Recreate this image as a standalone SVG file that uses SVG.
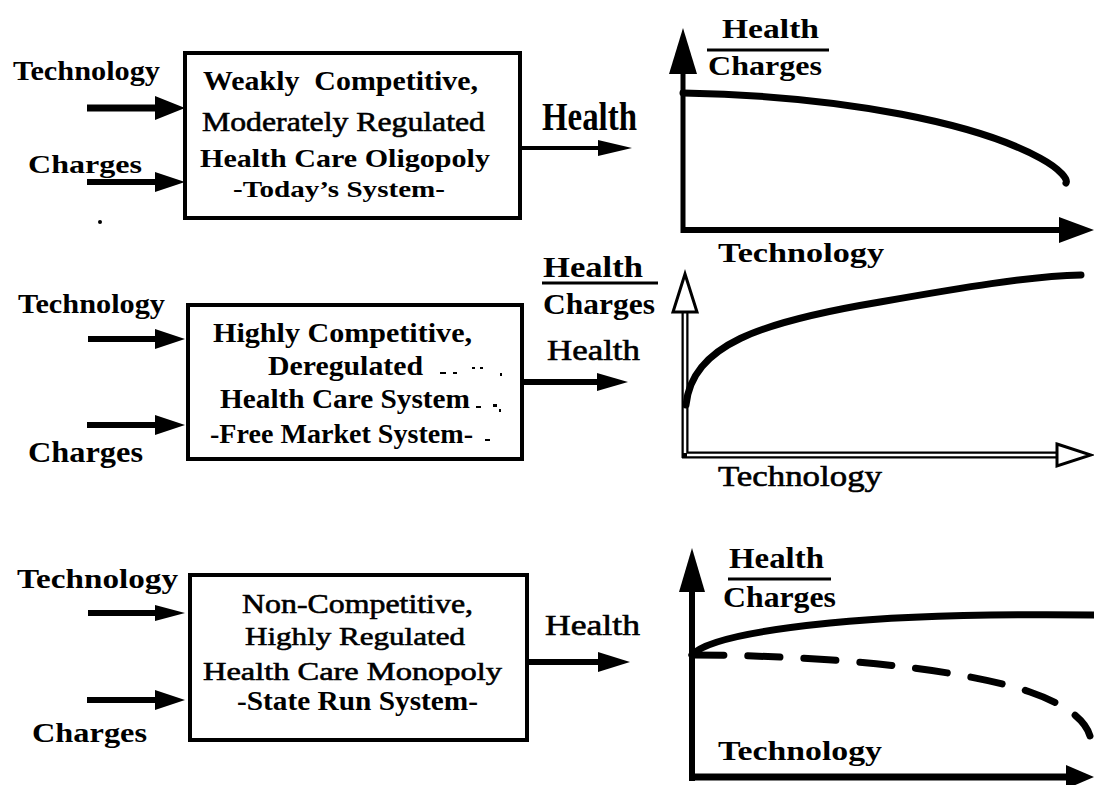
<svg xmlns="http://www.w3.org/2000/svg" width="1094" height="785" viewBox="0 0 1094 785">
<defs>
<style>
text { font-family: "Liberation Serif", "Times New Roman", serif; fill: #000; white-space: pre; }
.b { font-weight: bold; }
.n { stroke: #000; stroke-width: 0.6; }
.box { fill: #fff; stroke: #000; stroke-width: 4; }
.shaft { stroke: #000; fill: none; }
.head { fill: #000; stroke: none; }
.hollow { fill: #fff; stroke: #000; stroke-width: 3; stroke-linejoin: miter; }
.curve { fill: none; stroke: #000; stroke-width: 7; stroke-linecap: round; }
.frac { stroke: #000; stroke-width: 3; }
.speck { fill: #000; }
</style>
</defs>
<rect width="1094" height="785" fill="#fff"/>

<!-- Row 1 -->
<g id="box1">
<rect class="box" x="185" y="53" width="335" height="165"/>
<text class="b" x="203" y="90" font-size="27" textLength="275" lengthAdjust="spacingAndGlyphs">Weakly  Competitive,</text>
<text class="n" x="202" y="131" font-size="28" textLength="283" lengthAdjust="spacingAndGlyphs">Moderately Regulated</text>
<text class="b" x="200" y="167" font-size="26" textLength="290" lengthAdjust="spacingAndGlyphs">Health Care Oligopoly</text>
<text class="b" x="233" y="197" font-size="24" textLength="212" lengthAdjust="spacingAndGlyphs">-Today’s System-</text>
</g>

<g id="inputs1">
<text class="b" x="13" y="80" font-size="27" textLength="147" lengthAdjust="spacingAndGlyphs">Technology</text>
<text class="b" x="28" y="173" font-size="26" textLength="114" lengthAdjust="spacingAndGlyphs">Charges</text>
<circle cx="100" cy="222" r="2" fill="#000"/>
</g>

<g id="chart1">
<line class="shaft" x1="683" y1="70" x2="683" y2="233" stroke-width="5"/>
<polygon class="head" points="683,28 697,74 669,74"/>
<line class="shaft" x1="681" y1="230" x2="1062" y2="230" stroke-width="6"/>
<polygon class="head" points="1059,217 1094,230 1059,243"/>
<path class="curve" stroke-width="8" d="M683,93 C 850,96 980,125 1040,158 C 1062,170 1068,180 1066,183"/>
<text class="b" x="722" y="38" font-size="27" textLength="97" lengthAdjust="spacingAndGlyphs">Health</text>
<line class="frac" x1="707" y1="50" x2="829" y2="50"/>
<text class="b" x="708" y="75" font-size="28" textLength="114" lengthAdjust="spacingAndGlyphs">Charges</text>
<text class="b" x="718" y="262" font-size="28" textLength="166" lengthAdjust="spacingAndGlyphs">Technology</text>
</g>

<!-- Row 2 -->
<g id="box2">
<rect class="box" x="188" y="305" width="334" height="154"/>
<text class="b" x="213" y="342" font-size="28" textLength="259" lengthAdjust="spacingAndGlyphs">Highly Competitive,</text>
<text class="b" x="268" y="375" font-size="27" textLength="155" lengthAdjust="spacingAndGlyphs">Deregulated</text>
<text class="b" x="220" y="408" font-size="27" textLength="250" lengthAdjust="spacingAndGlyphs">Health Care System</text>
<text class="b" x="210" y="443" font-size="27" textLength="263" lengthAdjust="spacingAndGlyphs">-Free Market System-</text>
<rect class="speck" x="440" y="372" width="6" height="2"/>
<rect class="speck" x="453" y="372" width="4" height="2"/>
<rect class="speck" x="472" y="367" width="3" height="2"/>
<rect class="speck" x="480" y="367" width="3" height="2"/>
<rect class="speck" x="500" y="373" width="2" height="3"/>
<rect class="speck" x="476" y="406" width="5" height="2"/>
<rect class="speck" x="493" y="404" width="4" height="3"/>
<rect class="speck" x="499" y="409" width="2" height="3"/>
<rect class="speck" x="485" y="439" width="5" height="2"/>
</g>

<g id="inputs2">
<text class="b" x="18" y="313" font-size="27" textLength="147" lengthAdjust="spacingAndGlyphs">Technology</text>
<text class="b" x="28" y="462" font-size="29" textLength="115" lengthAdjust="spacingAndGlyphs">Charges</text>
</g>

<g id="chart2">
<line class="shaft" x1="685" y1="311" x2="685" y2="458" stroke-width="7"/>
<line class="shaft" x1="682" y1="455" x2="1059" y2="455" stroke-width="7"/>
<line x1="685" y1="311" x2="685" y2="453" stroke="#fff" stroke-width="2.5"/>
<line x1="687" y1="455" x2="1059" y2="455" stroke="#fff" stroke-width="2.5"/>
<polygon class="hollow" points="685,274 697,312 673,312"/>
<polygon class="hollow" points="1057,444 1091,455 1057,466"/>
<path class="curve" d="M686,405 C 692,345 760,322 880,302 C 960,288 1030,276 1081,275"/>
<text class="b" x="543" y="277" font-size="30" textLength="100" lengthAdjust="spacingAndGlyphs">Health</text>
<line class="frac" x1="542" y1="283" x2="658" y2="283" stroke-width="4"/>
<text class="b" x="543" y="314" font-size="30" textLength="112" lengthAdjust="spacingAndGlyphs">Charges</text>
<text class="n" x="718" y="486" font-size="30" textLength="164" lengthAdjust="spacingAndGlyphs">Technology</text>
</g>

<!-- Row 3 -->
<g id="box3">
<rect class="box" x="190" y="575" width="337" height="165"/>
<text class="n" x="242" y="613" font-size="27" textLength="231" lengthAdjust="spacingAndGlyphs">Non-Competitive,</text>
<text class="n" x="245" y="645" font-size="26" textLength="220" lengthAdjust="spacingAndGlyphs">Highly Regulated</text>
<text class="n" x="203" y="680" font-size="26" textLength="299" lengthAdjust="spacingAndGlyphs">Health Care Monopoly</text>
<text class="b" x="237" y="710" font-size="27" textLength="241" lengthAdjust="spacingAndGlyphs">-State Run System-</text>
</g>

<g id="inputs3">
<text class="b" x="17" y="588" font-size="27" textLength="161" lengthAdjust="spacingAndGlyphs">Technology</text>
<text class="b" x="32" y="742" font-size="28" textLength="115" lengthAdjust="spacingAndGlyphs">Charges</text>
</g>

<g id="chart3">
<line class="shaft" x1="692" y1="588" x2="692" y2="781" stroke-width="6"/>
<polygon class="head" points="692,548 705,592 679,592"/>
<line class="shaft" x1="689" y1="777" x2="1068" y2="777" stroke-width="7"/>
<polygon class="head" points="1066,765 1094,777 1066,789"/>
<path class="curve" d="M692,655 C 705,640 760,630 830,623 S 1000,614 1096,615"/>
<path class="curve" stroke-linecap="butt" stroke-dasharray="32 24" d="M692,655 C 800,655 950,665 1030,692 C 1062,703 1085,718 1090,736"/>
<text class="b" x="729" y="568" font-size="29" textLength="95" lengthAdjust="spacingAndGlyphs">Health</text>
<line class="frac" x1="728" y1="579" x2="831" y2="579" stroke-width="4"/>
<text class="b" x="723" y="607" font-size="29" textLength="113" lengthAdjust="spacingAndGlyphs">Charges</text>
<text class="b" x="718" y="760" font-size="28" textLength="164" lengthAdjust="spacingAndGlyphs">Technology</text>
</g>

<!-- Connectors -->
<g id="connectors">
<line class="shaft" x1="87" y1="108" x2="157" y2="108" stroke-width="7"/>
<polygon class="head" points="155,96 185,108 155,120"/>
<line class="shaft" x1="87" y1="182" x2="157" y2="182" stroke-width="6"/>
<polygon class="head" points="155,172 185,182 155,192"/>
<line class="shaft" x1="522" y1="148" x2="600" y2="148" stroke-width="4"/>
<polygon class="head" points="598,140 632,148 598,156"/>
<text class="b" x="542" y="130" font-size="40" textLength="95" lengthAdjust="spacingAndGlyphs">Health</text>

<line class="shaft" x1="88" y1="339" x2="157" y2="339" stroke-width="6"/>
<polygon class="head" points="155,329 185,339 155,349"/>
<line class="shaft" x1="87" y1="425" x2="157" y2="425" stroke-width="6"/>
<polygon class="head" points="155,415 185,425 155,435"/>
<line class="shaft" x1="524" y1="382" x2="599" y2="382" stroke-width="6"/>
<polygon class="head" points="597,373 628,382 597,391"/>
<text class="n" x="547" y="360" font-size="30" textLength="93" lengthAdjust="spacingAndGlyphs">Health</text>

<line class="shaft" x1="88" y1="613" x2="157" y2="613" stroke-width="6"/>
<polygon class="head" points="155,605 185,613 155,621"/>
<line class="shaft" x1="87" y1="700" x2="157" y2="700" stroke-width="6"/>
<polygon class="head" points="155,690 185,700 155,710"/>
<line class="shaft" x1="529" y1="662" x2="600" y2="662" stroke-width="6"/>
<polygon class="head" points="598,652 630,662 598,672"/>
<text class="n" x="545" y="635" font-size="30" textLength="95" lengthAdjust="spacingAndGlyphs">Health</text>
</g>
</svg>
